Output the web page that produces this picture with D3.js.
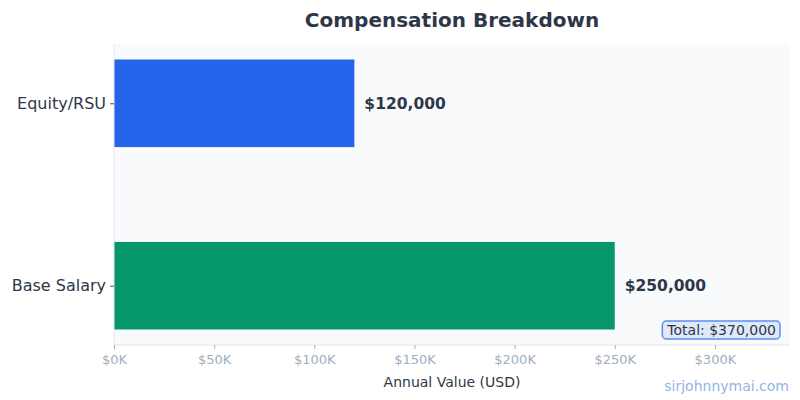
<!DOCTYPE html>
<html>
<head>
<meta charset="utf-8">
<script src="https://cdn.jsdelivr.net/npm/d3@7"></script>
<style>
  body { margin: 0; background: #fff; }
  svg { display: block; font-family: "DejaVu Sans", sans-serif; }
</style>
</head>
<body>
<svg id="chart" width="800" height="400"></svg>
<script>
const categories = ["Base Salary", "Equity/RSU"];
const values = [250000, 120000];
const barColors = ["#059669", "#2563eb"];
const xTicks = [0, 50000, 100000, 150000, 200000, 250000, 300000];

const svg = d3.select("#chart");
const width = 800, height = 400;
const margin = { top: 44, right: 10, bottom: 55, left: 114 };
const plotW = width - margin.left - margin.right;
const plotH = height - margin.top - margin.bottom;

const total = d3.sum(values);

// x and y scales (matplotlib-style margins)
const x = d3.scaleLinear().domain([0, d3.max(values) * 1.35]).range([0, plotW]);
const y = d3.scaleLinear().domain([-0.325, 1.325]).range([plotH, 0]);
const barH = 0.48;

const g = svg.append("g").attr("transform", `translate(${margin.left},${margin.top})`);

g.append("rect")
    .attr("width", plotW)
    .attr("height", plotH)
    .attr("fill", "#f8fafc");

// Bars
g.selectAll("rect.bar")
    .data(values)
    .join("rect")
    .attr("class", "bar")
    .attr("x", x(0))
    .attr("y", (d, i) => y(i + barH / 2))
    .attr("width", d => x(d) - x(0))
    .attr("height", y(0) - y(barH))
    .attr("fill", (d, i) => barColors[i]);

// Value labels
g.selectAll("text.val")
    .data(values)
    .join("text")
    .attr("class", "val")
    .attr("x", d => x(d + 5000))
    .attr("y", (d, i) => y(i))
    .attr("dy", "0.35em")
    .attr("fill", "#2d3748")
    .style("font-size", "15.5px")
    .style("font-weight", "bold")
    .text(d => "$" + d3.format(",")(d));

// Spines
g.append("line")
    .attr("x1", 0).attr("x2", 0).attr("y1", 0).attr("y2", plotH)
    .attr("stroke", "#e2e8f0");
g.append("line")
    .attr("x1", 0).attr("x2", plotW).attr("y1", plotH).attr("y2", plotH)
    .attr("stroke", "#e2e8f0");

// X axis
const xAxis = g.append("g")
    .attr("transform", `translate(0,${plotH})`)
    .call(d3.axisBottom(x).tickValues(xTicks).tickSize(4).tickPadding(6)
        .tickFormat(d => "$" + d / 1000 + "K"));
xAxis.select(".domain").remove();
xAxis.selectAll("line").attr("stroke", "#a0aec0");
xAxis.selectAll("text")
    .attr("fill", "#a0aec0")
    .style("font-size", "13px")
    .style("font-family", "DejaVu Sans");

// Y axis
const yAxis = g.append("g")
    .call(d3.axisLeft(y).tickValues(d3.range(categories.length)).tickSize(4).tickPadding(4)
        .tickFormat(i => categories[i]));
yAxis.select(".domain").remove();
yAxis.selectAll("line").attr("stroke", "#4a5568");
yAxis.selectAll("text")
    .attr("fill", "#2d3748")
    .style("font-size", "16px")
    .style("font-family", "DejaVu Sans");

// Title
svg.append("text")
    .attr("x", margin.left + plotW / 2)
    .attr("y", 27)
    .attr("text-anchor", "middle")
    .attr("fill", "#2d3748")
    .style("font-size", "20px")
    .style("font-weight", "bold")
    .text("Compensation Breakdown");

// X label
svg.append("text")
    .attr("x", margin.left + plotW / 2)
    .attr("y", 387)
    .attr("text-anchor", "middle")
    .attr("fill", "#2d3748")
    .style("font-size", "14px")
    .text("Annual Value (USD)");

// Total box
const totalG = g.append("g");
const totalText = totalG.append("text")
    .attr("x", plotW - 14)
    .attr("y", plotH - 10)
    .attr("text-anchor", "end")
    .attr("fill", "#2d3748")
    .style("font-size", "14px")
    .text("Total: $" + d3.format(",")(total));
const bb = totalText.node().getBBox();
totalG.insert("rect", "text")
    .attr("x", bb.x - 4)
    .attr("y", bb.y - 1)
    .attr("width", bb.width + 8)
    .attr("height", bb.height + 2)
    .attr("rx", 4)
    .attr("fill", "#dfe9fb")
    .attr("stroke", "#5b8def")
    .attr("stroke-width", 1.5);

// Watermark
svg.append("text")
    .attr("x", 789)
    .attr("y", 391)
    .attr("text-anchor", "end")
    .attr("fill", "#93b4e6")
    .style("font-size", "14px")
    .text("sirjohnnymai.com");
</script>
</body>
</html>
